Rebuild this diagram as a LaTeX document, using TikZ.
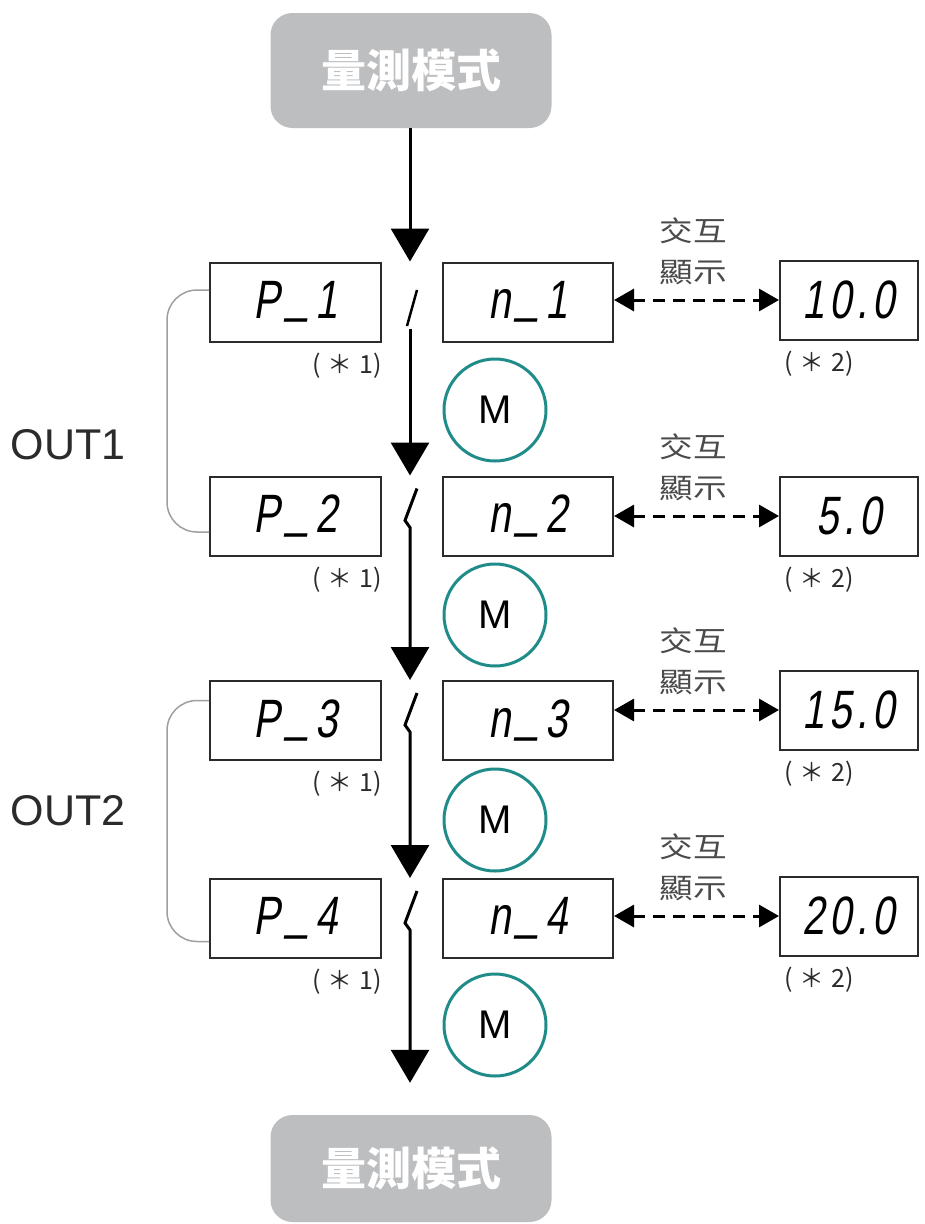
\documentclass[tikz,border=0pt]{standalone}
\usepackage{fontspec}
\setmainfont{Liberation Sans}
\newfontfamily\cjk{Noto Sans CJK TC}
\newfontfamily\cjkwide[FakeStretch=1.2]{Noto Sans CJK TC}
\newfontfamily\segfont[FakeStretch=0.74,FakeSlant=0.16,LetterSpace=9]{Liberation Sans}
\usetikzlibrary{arrows.meta}

\definecolor{modegray}{HTML}{BDBEC0}
\definecolor{ink}{HTML}{2B2B2B}
\definecolor{mteal}{HTML}{1F8C8A}

\newcommand\segbar{\kern0.12em\raisebox{0.12em}{\_}\kern0.12em}

\tikzset{
  modebox/.style={fill=modegray, rounded corners=22pt, minimum width=281pt,
    minimum height=115pt, text=white, font=\cjk\bfseries\fontsize{45}{45}\selectfont},
  segbox/.style={draw=ink, line width=2pt, minimum height=79pt, inner sep=0pt,
    font=\segfont\fontsize{54}{54}\selectfont},
  flow/.style={draw=black, line width=3pt, -{Triangle[width=38pt,length=33pt]}},
  cut/.style={draw=black, line width=2.5pt},
  swap/.style={line width=3pt, dash pattern=on 12pt off 8pt,
    {Triangle[width=22pt,length=20pt]}-{Triangle[width=22pt,length=20pt]}},
  bracket/.style={draw=gray!75, line width=1.5pt, rounded corners=30pt},
  mkey/.style={circle, draw=mteal, line width=3pt, minimum size=102pt,
    inner sep=0pt, font=\fontsize{40}{40}\selectfont},
  note/.style={font=\cjk\fontsize{25}{25}\selectfont, text=ink, inner sep=0pt},
  swaplabel/.style={font=\cjkwide\fontsize{28}{41}\selectfont, text=ink!85,
    inner sep=0pt, align=center},
  outlabel/.style={font=\fontsize{43}{43}\selectfont, text=ink},
}

\begin{document}
\begin{tikzpicture}[x=1pt,y=-1pt]
  \useasboundingbox (0,0) rectangle (925,1224);

  % measuring mode, start and end
  \node[modebox] (top) at (411,70.5) {量測模式};
  \node[modebox, minimum height=107pt] (bot) at (411,1168.5) {量測模式};
  \coordinate (col) at (410,0);

  % one row per set point
  \foreach \i/\y/\vy/\val in {1/302/300/10.0, 2/516/516/5.0, 3/720.5/710/15.0, 4/918.5/916/20.0}{
    \node[segbox, minimum width=171pt] (p\i) at (295.5,\y) {P\segbar\i};
    \node[segbox, minimum width=170pt] (n\i) at (528,\y) {n\segbar\i};
    \node[segbox, minimum width=138pt] (v\i) at (849,\vy) {\val};
    \draw[swap] (v\i.west -| n\i.east) -- (v\i.west);
    \node[swaplabel, anchor=south] (t\i) at (693,\vy-15) {交互\\顯示};
    \node[note, anchor=north east] (a\i) at ([yshift=-10pt]p\i.south east) {(\;＊\;1)};
    \node[note, anchor=north west] (b\i) at ([xshift=5pt,yshift=-10pt]v\i.south west) {(\;＊\;2)};
  }

  % M key between rows
  \foreach \j/\my in {1/410, 2/615, 3/820, 4/1025}
    \node[mkey] (m\j) at (495,\my) {M};

  % outputs
  \node[outlabel] (o1) at (68,445) {OUT1};
  \node[outlabel] (o2) at (68,811) {OUT2};
  \draw[bracket] ([yshift=12pt]p1.west) -- ++(-42,0)
    -- ([xshift=-42pt,yshift=-16pt]p2.west) -- ([yshift=-16pt]p2.west);
  \draw[bracket] ([yshift=20pt]p3.west) -- ++(-42,0)
    -- ([xshift=-42pt,yshift=-23pt]p4.west) -- ([yshift=-23pt]p4.west);

  % main flow
  \draw[flow] (top.south -| col) -- (col |- p1.north);
  \draw[cut] (417,290) -- (407,326);
  \path (col |- p1.south) ++(0,-14) coordinate (f1);
  \draw[flow] (f1) -- (col |- p2.north);
  \path (col |- bot.north) ++(0,-32) coordinate (e4);
  \foreach \i/\n in {2/p3.north, 3/p4.north, 4/e4}{
    \path (col |- p\i.north) ++(7,13) coordinate (s\i);
    \draw[flow] (s\i) -- ++(-12,32) -- ++(5,7) -- (col |- \n);
  }
\end{tikzpicture}
\end{document}
